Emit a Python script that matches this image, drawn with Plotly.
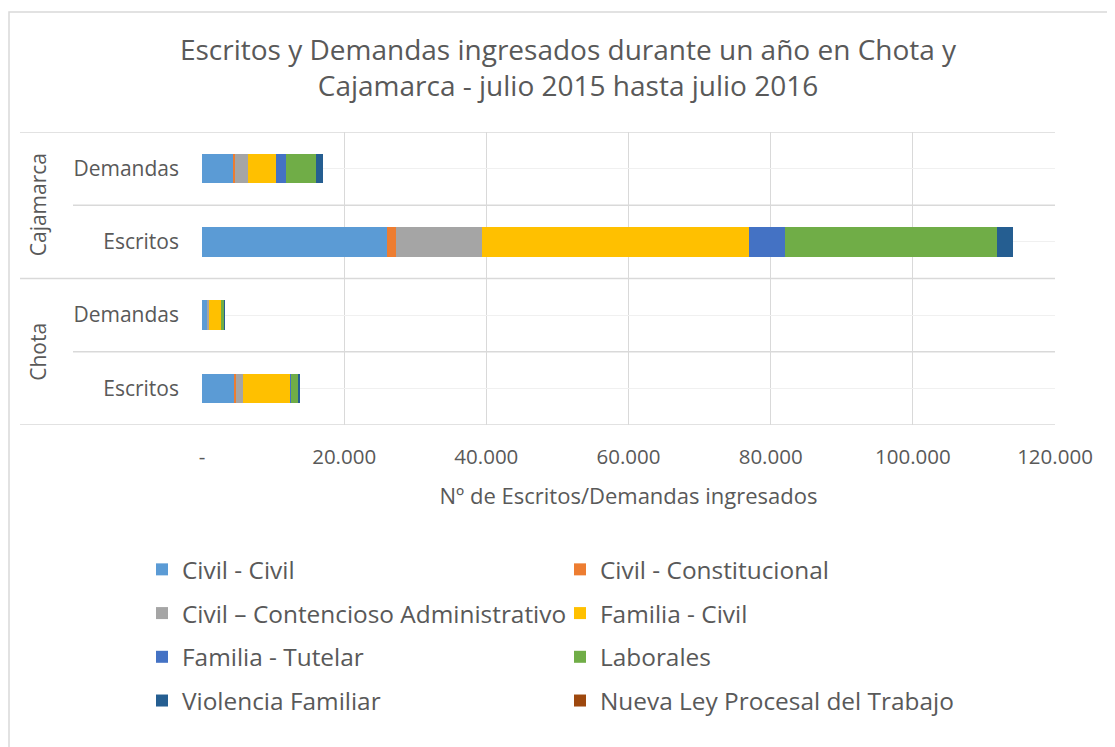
import plotly.graph_objects as go

# Row order (bottom to top)
groups = ["Chota", "Chota", "Cajamarca", "Cajamarca"]
subcats = ["Escritos", "Demandas", "Escritos", "Demandas"]

series_names = [
    "Civil - Civil",
    "Civil - Constitucional",
    "Civil – Contencioso Administrativo",
    "Familia - Civil",
    "Familia - Tutelar",
    "Laborales",
    "Violencia Familiar",
    "Nueva Ley Procesal del Trabajo",
]
civil_civil = [4550, 750, 26060, 4310]
civil_constitucional = [230, 20, 1270, 330]
civil_contencioso = [1030, 200, 12070, 1860]
familia_civil = [6570, 1740, 37500, 3870]
familia_tutelar = [80, 30, 5100, 1490]
laborales = [1120, 400, 29800, 4170]
violencia_familiar = [180, 20, 2300, 970]
nueva_ley = [0, 0, 0, 0]

x_tickvals = [0, 20000, 40000, 60000, 80000, 100000, 120000]
x_ticktext = ["-", "20.000", "40.000", "60.000", "80.000", "100.000", "120.000"]

colors = ["#5B9BD5", "#ED7D31", "#A5A5A5", "#FFC000", "#4472C4", "#70AD47", "#255E91", "#9E480E"]
values = [civil_civil, civil_constitucional, civil_contencioso, familia_civil,
          familia_tutelar, laborales, violencia_familiar, nueva_ley]

keys = [f"{g}|{s}" for g, s in zip(groups, subcats)]

TXT = "#595959"
FONT = "Open Sans"
GRID = "#d9d9d9"

fig = go.Figure()
for i, (name, vals, col) in enumerate(zip(series_names, values, colors)):
    fig.add_trace(go.Bar(
        y=keys, x=vals, name=name, orientation="h",
        marker=dict(color=col, line=dict(width=0)),
        legend="legend" if i % 2 == 0 else "legend2",
        legendgroup=name,
    ))

# page offset (body margin) -> work in screen coords, convert to figure coords
OFF = 8
L, R, T, B = 202 - OFF, 1055 - OFF, 132 - OFF, 425 - OFF
W, H = R - L, B - T
FW, FH = 1115, 747
def px(x):
    return (x - OFF - L) / W
def py(y):
    return (B - (y - OFF)) / H

shapes = []
# outer chart border
shapes.append(dict(type="rect", xref="paper", yref="paper",
                   x0=px(9), x1=px(1113), y0=py(800), y1=py(12),
                   line=dict(color=GRID, width=1.5), layer="below"))
# category boundary lines
for yv in [-0.5, 1.5, 3.5]:
    shapes.append(dict(type="line", xref="paper", yref="y", x0=px(20), x1=1,
                       y0=yv, y1=yv, line=dict(color=GRID, width=1.3), layer="below"))
for yv in [0.5, 2.5]:
    shapes.append(dict(type="line", xref="paper", yref="y", x0=px(73), x1=1,
                       y0=yv, y1=yv, line=dict(color=GRID, width=1.3), layer="below"))

annotations = [
    dict(text="Cajamarca", x=px(38), y=2.5, xref="paper", yref="y", textangle=-90,
         xanchor="center", yanchor="middle",
         showarrow=False, font=dict(family=FONT, size=21, color=TXT)),
    dict(text="Chota", x=px(38), y=0.5, xref="paper", yref="y", textangle=-90,
         xanchor="center", yanchor="middle",
         showarrow=False, font=dict(family=FONT, size=21, color=TXT)),
]

fig.update_layout(
    width=FW, height=FH,
    margin=dict(l=L, r=FW - R, t=T, b=FH - B, pad=0),
    paper_bgcolor="white", plot_bgcolor="white",
    barmode="stack", bargap=0.6,
    title=dict(text="Escritos y Demandas ingresados durante un año en Chota y<br>Cajamarca - julio 2015 hasta julio 2016",
               x=(568 - OFF) / FW, xref="container", xanchor="center",
               y=1 - (60 - OFF) / FH, yref="container", yanchor="middle",
               font=dict(family=FONT, size=28, color=TXT)),
    xaxis=dict(range=[0, 120000], tickvals=x_tickvals, ticktext=x_ticktext,
               showgrid=True, gridcolor=GRID, gridwidth=1.3, zeroline=False,
               showline=False, ticks="", ticklabelstandoff=17,
               tickfont=dict(family=FONT, size=20.5, color=TXT),
               title=dict(text="Nº de Escritos/Demandas ingresados", standoff=20,
                          font=dict(family=FONT, size=22, color=TXT))),
    yaxis=dict(type="category", categoryorder="array", categoryarray=keys,
               tickvals=keys, ticktext=subcats, range=[-0.5, 3.5],
               showgrid=True, gridcolor="#f0f0f0", gridwidth=1.3,
               showline=False, ticks="", ticklabelstandoff=22,
               tickfont=dict(family=FONT, size=21, color=TXT)),
    legend=dict(orientation="v", x=px(142), xanchor="left", y=py(547), yanchor="top",
                tracegroupgap=9, font=dict(family=FONT, size=24.4, color=TXT),
                bgcolor="rgba(0,0,0,0)"),
    legend2=dict(orientation="v", x=px(560), xanchor="left", y=py(547), yanchor="top",
                 tracegroupgap=9, font=dict(family=FONT, size=24.4, color=TXT),
                 bgcolor="rgba(0,0,0,0)"),
    shapes=shapes,
    annotations=annotations,
    showlegend=True,
)

fig.write_html("out.html")
